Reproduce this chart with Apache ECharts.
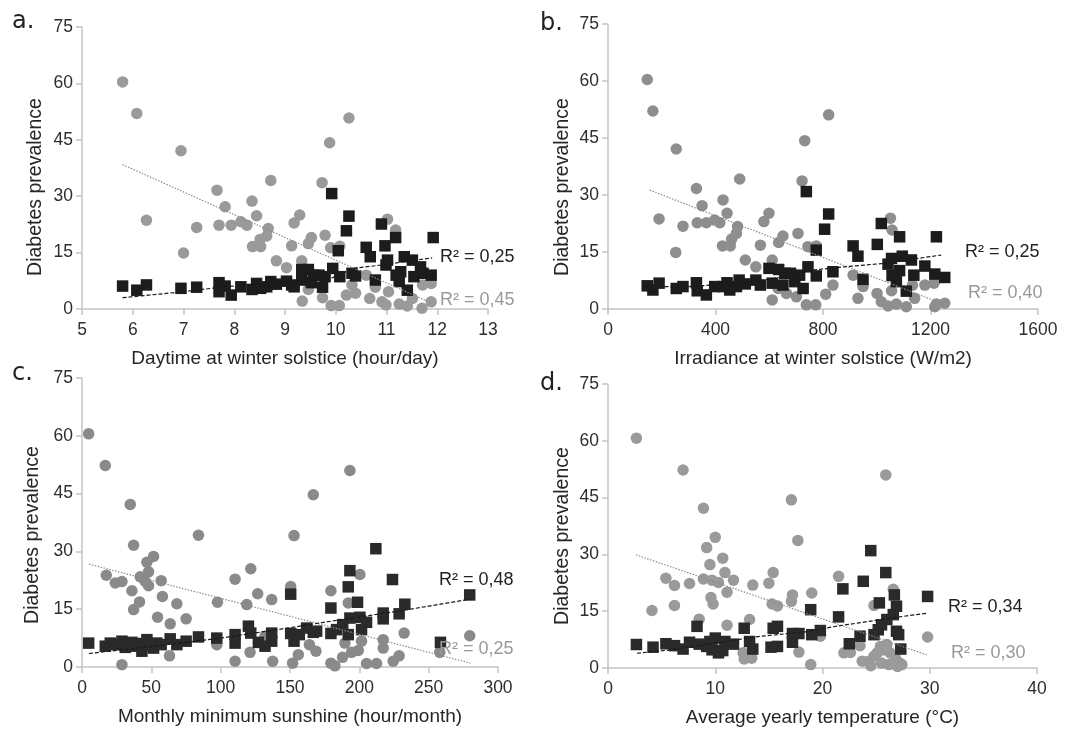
<!DOCTYPE html>
<html><head><meta charset="utf-8">
<script src="https://cdn.jsdelivr.net/npm/echarts@6/dist/echarts.min.js"></script>
<style>html,body{margin:0;padding:0;background:#fff}#c{width:1071px;height:729px}</style>
</head><body><div id="c"></div>
<script>
// ---------- Panel a: Daytime at winter solstice ----------
const aGray = [[5.80,60.4],[6.08,52.0],[6.27,23.6],[6.95,42.1],[7.00,14.9],[7.26,21.7],[7.66,31.6],[7.70,22.3],[7.82,27.2],[7.94,22.3],[8.13,23.2],[8.25,22.3],[8.35,28.7],[8.44,24.8],[8.36,16.6],[8.52,16.6],[8.51,18.5],[8.64,19.4],[8.67,21.4],[8.72,34.2],[8.83,12.8],[9.03,11.0],[9.13,16.8],[9.18,22.9],[9.29,25.0],[9.33,12.8],[9.34,2.1],[9.46,17.4],[9.52,19.0],[9.46,5.2],[9.73,33.6],[9.79,19.6],[9.74,3.0],[9.88,44.2],[9.90,16.3],[9.91,0.9],[10.07,0.9],[10.08,16.7],[10.26,50.8],[10.32,6.4],[10.21,3.7],[10.39,4.2],[10.60,9.0],[10.67,2.8],[10.78,5.8],[10.91,1.9],[10.99,1.1],[11.02,23.9],[11.04,4.6],[11.18,21.0],[11.25,1.3],[11.41,0.8],[11.51,2.8],[11.70,0.2],[11.71,6.4],[11.88,1.9],[11.88,6.8]];
const aBlack = [[5.80,6.1],[6.08,5.0],[6.27,6.4],[6.95,5.5],[7.26,5.8],[7.70,7.0],[7.70,4.6],[7.82,6.1],[7.94,3.7],[8.13,5.9],[8.35,5.2],[8.44,6.8],[8.52,5.5],[8.64,5.9],[8.72,7.3],[8.83,6.6],[9.03,7.4],[9.13,6.4],[9.18,5.9],[9.33,10.5],[9.33,7.7],[9.46,10.5],[9.52,7.0],[9.56,9.0],[9.67,9.0],[9.74,5.8],[9.79,8.6],[9.92,30.7],[9.94,10.8],[10.05,15.5],[10.08,8.6],[10.21,20.8],[10.26,24.7],[10.32,9.5],[10.39,8.8],[10.60,16.4],[10.68,13.9],[10.78,7.7],[10.90,22.6],[10.97,16.8],[10.99,11.7],[11.02,13.0],[11.18,19.0],[11.19,9.0],[11.25,7.3],[11.28,9.9],[11.35,13.9],[11.41,5.0],[11.51,13.0],[11.54,8.6],[11.67,11.2],[11.72,9.5],[11.88,9.0],[11.92,19.0]];
const aGrayTrend = [[5.8,38.4],[11.9,1.5]];
const aBlackTrend = [[5.8,3.0],[7.0,4.6],[7.8,5.9],[9.0,7.2],[9.9,8.1],[10.35,10.8],[10.9,11.7],[11.9,13.6]];

// ---------- Panel b: Irradiance at winter solstice ----------
const bGray = [[146,60.4],[167,52.1],[190,23.7],[254,42.1],[252,14.9],[279,21.8],[329,31.7],[350,27.2],[332,22.7],[366,22.7],[397,23.4],[416,22.7],[428,28.7],[443,25.2],[426,16.6],[455,16.6],[460,18.4],[478,19.9],[482,21.7],[490,34.2],[511,12.9],[550,11.1],[567,16.8],[580,23.0],[599,25.2],[611,12.9],[611,2.4],[635,17.5],[651,19.2],[633,5.4],[664,4.1],[722,33.7],[707,19.9],[701,3.2],[732,44.3],[744,16.4],[738,1.1],[773,1.1],[775,16.6],[821,51.1],[837,6.3],[810,3.9],[912,8.9],[930,2.8],[949,5.9],[1001,4.1],[1017,1.9],[1042,0.8],[1051,23.9],[1057,20.8],[1055,4.8],[1073,1.3],[1110,0.6],[1141,2.8],[1133,6.3],[1179,6.3],[1216,0.6],[1222,1.3],[1253,1.5],[1213,6.8]];
const bBlack = [[146,6.1],[167,5.0],[190,6.8],[254,5.4],[279,5.9],[329,6.9],[332,4.8],[366,3.7],[397,5.9],[428,5.9],[443,6.9],[453,5.0],[478,5.9],[488,7.6],[511,6.6],[550,7.6],[567,6.3],[599,10.7],[611,6.8],[635,10.4],[651,6.3],[658,9.4],[679,9.4],[695,7.2],[713,8.9],[726,5.4],[738,30.9],[744,11.1],[775,15.5],[775,8.7],[806,21.0],[821,25.0],[837,9.8],[912,16.6],[930,13.9],[949,7.8],[1002,17.0],[1017,22.5],[1042,11.8],[1055,13.3],[1057,8.8],[1073,7.2],[1085,10.1],[1085,19.0],[1095,13.9],[1110,4.7],[1129,12.9],[1138,8.9],[1179,11.3],[1216,9.2],[1222,19.0],[1253,8.3]];
const bGrayTrend = [[155,31.3],[1240,1.5]];
const bBlackTrend = [[143,5.9],[300,5.9],[500,6.8],[640,8.3],[769,10.3],[880,11.1],[1026,12.0],[1240,14.2]];

// ---------- Panel c: Monthly minimum sunshine ----------
const cGray = [[4.8,60.5],[16.8,52.3],[34.8,42.2],[37.2,31.6],[17.5,23.8],[24,21.8],[28.8,22.2],[36,19.8],[37.2,14.9],[41.5,16.9],[42,23.4],[45.6,22.2],[46.8,27.2],[48,24.7],[48,21.1],[51.6,28.7],[57.1,22.4],[58,18.3],[54.5,12.9],[63.6,11.2],[68.4,16.4],[75.1,12.5],[63.1,2.9],[28.8,0.6],[84,34.2],[97.7,16.8],[97.2,5.8],[110.4,22.8],[110.4,1.5],[118.8,16.2],[121.7,25.5],[121.2,3.8],[126.7,19.0],[132,8.0],[136.8,17.5],[137.5,1.5],[150.5,20.9],[152.9,34.1],[151.9,1.0],[156,3.2],[164,5.8],[166.8,44.7],[168.7,4.1],[179.5,19.8],[179.5,1.0],[182.4,0.3],[187.9,2.5],[192,16.6],[193.2,51.0],[189.6,6.2],[194.4,3.8],[199.2,4.3],[200.4,24.0],[201.6,6.7],[205.2,0.9],[212.4,0.9],[217.2,7.1],[217.2,4.9],[224.4,1.5],[228.7,2.9],[232.3,8.8],[258,3.8],[279.6,8.1]];
const cBlack = [[4.8,6.2],[16.8,5.4],[20.4,6.2],[24,5.8],[28.8,6.7],[31.2,5.1],[36,6.4],[37.2,5.4],[41.5,6.1],[43.2,4.1],[46.8,7.1],[48,5.5],[51.6,4.9],[54,6.2],[57.1,5.8],[63.6,7.3],[68.4,5.8],[75.1,6.7],[84,7.8],[97.2,7.5],[110.4,8.4],[110.4,6.2],[120,10.6],[121.7,8.8],[127.2,6.4],[132,5.4],[136.8,6.7],[136.8,8.8],[150.5,18.9],[150.5,8.7],[152.9,6.7],[156.7,8.4],[162,10.1],[166.8,9.0],[169.2,9.3],[179.5,15.3],[179.5,8.7],[183.6,9.7],[188,11.0],[192,20.8],[193.2,25.0],[193.2,12.7],[192,8.4],[198.7,16.8],[200.4,12.9],[201.6,9.7],[205.2,11.6],[211.9,30.7],[217.2,12.5],[217.2,14.0],[223.9,22.7],[228.7,13.8],[232.8,16.3],[258.5,6.4],[279.6,18.7]];
const cGrayTrend = [[5,26.7],[280,1.0]];
const cBlackTrend = [[5,3.5],[50,5.3],[100,7.5],[150,10.2],[180,11.9],[230,14.6],[280,17.6]];

// ---------- Panel d: Average yearly temperature ----------
const dGray = [[2.65,60.7],[7.0,52.3],[8.9,42.2],[10.0,34.5],[9.2,31.8],[10.7,29.0],[9.5,27.3],[5.4,23.7],[6.2,21.8],[7.6,22.3],[8.9,23.5],[9.7,23.2],[10.3,22.6],[10.9,25.2],[11.7,23.2],[13.5,21.9],[15.0,22.4],[15.4,25.2],[9.6,18.6],[9.8,16.9],[11.1,20.0],[6.2,16.5],[4.1,15.2],[8.5,12.9],[11.1,11.3],[13.2,12.8],[15.3,16.9],[15.8,16.4],[17.1,44.4],[17.2,19.3],[17.1,17.6],[17.7,33.7],[19.0,19.8],[21.5,24.2],[25.9,51.0],[24.8,16.5],[19.8,8.4],[17.8,4.2],[18.9,0.9],[12.6,4.0],[12.7,2.4],[13.4,2.6],[22.0,4.0],[22.6,4.1],[23.5,5.9],[23.7,1.8],[24.3,1.8],[24.5,0.6],[24.8,3.1],[25.1,4.0],[25.4,5.7],[25.7,4.8],[26.0,6.2],[25.5,1.3],[26.2,0.9],[26.6,20.8],[26.8,2.6],[27.0,0.4],[27.2,1.3],[27.4,0.9],[29.8,8.2],[26.3,4.0]];
const dBlack = [[2.65,6.2],[4.2,5.5],[5.4,6.4],[6.2,5.9],[7.0,5.0],[7.6,6.8],[8.3,11.0],[8.5,6.3],[9.2,5.7],[9.5,7.0],[9.7,4.8],[10.0,7.9],[10.3,4.0],[10.7,4.6],[10.9,7.0],[11.7,6.3],[12.7,10.5],[13.2,7.0],[13.5,5.0],[15.2,5.5],[15.4,10.5],[15.8,11.0],[15.8,5.7],[17.2,6.8],[17.2,9.1],[17.8,9.1],[18.9,15.4],[19.0,8.8],[19.8,9.9],[21.5,13.5],[21.9,20.9],[22.5,6.4],[23.5,8.4],[23.8,22.9],[24.5,31.0],[24.8,8.8],[25.2,10.1],[25.3,17.2],[25.5,11.4],[25.9,25.2],[26.0,12.8],[26.6,14.1],[26.7,19.3],[26.9,16.3],[26.9,9.7],[27.1,8.8],[27.3,5.0],[29.8,18.9]];
const dGrayTrend = [[2.6,29.9],[29.7,3.5]];
const dBlackTrend = [[2.7,3.9],[5.6,4.7],[14,8.3],[18.6,9.6],[21,10.9],[25,12.6],[27.2,13.5],[29.8,14.5]];

// ---------- Axis settings and texts ----------
const yTicks = {min: 0, max: 75, interval: 15};
const xAxes = [
  {min: 5, max: 13, interval: 1, name: 'Daytime at winter solstice (hour/day)'},
  {min: 0, max: 1600, interval: 400, name: 'Irradiance at winter solstice (W/m2)'},
  {min: 0, max: 300, interval: 50, name: 'Monthly minimum sunshine (hour/month)'},
  {min: 0, max: 40, interval: 10, name: 'Average yearly temperature (°C)'}
];
const yTitle = 'Diabetes prevalence';
const panelLetters = ['a.', 'b.', 'c.', 'd.'];
const r2Black = ['R² = 0,25', 'R² = 0,25', 'R² = 0,48', 'R² = 0,34'];
const r2Gray = ['R² = 0,45', 'R² = 0,40', 'R² = 0,25', 'R² = 0,30'];

const panels = [
  {gray: aGray, black: aBlack, gt: aGrayTrend, bt: aBlackTrend},
  {gray: bGray, black: bBlack, gt: bGrayTrend, bt: bBlackTrend},
  {gray: cGray, black: cBlack, gt: cGrayTrend, bt: cBlackTrend},
  {gray: dGray, black: dBlack, gt: dGrayTrend, bt: dBlackTrend}
];

// layout (pixels)
const grids = [
  {left: 82, top: 27, width: 406, height: 282},
  {left: 608, top: 24, width: 430, height: 285},
  {left: 82, top: 378, width: 416, height: 289},
  {left: 608, top: 384, width: 429, height: 284}
];
const grayCol = ['#9a9a9a', '#8e8e8e', '#8a8a8a', '#9a9a9a'];
const blackCol = ['#1c1c1c', '#1c1c1c', '#2a2a2a', '#2a2a2a'];
const FONT = 'Liberation Sans, Arial, sans-serif';
const axisLineCol = '#c4c4c4';

const option = {
  backgroundColor: '#fff',
  animation: false,
  grid: grids.map(g => Object.assign({containLabel: false}, g)),
  xAxis: xAxes.map((x, i) => ({
    type: 'value', gridIndex: i, min: x.min, max: x.max, interval: x.interval,
    name: x.name, nameLocation: 'middle', nameGap: 40,
    nameTextStyle: {fontFamily: FONT, fontSize: 19, color: '#262626'},
    axisLine: {show: true, lineStyle: {color: axisLineCol, width: 1.5}},
    axisTick: {show: true, length: 6, inside: false, lineStyle: {color: axisLineCol, width: 1.5}},
    splitLine: {show: false},
    axisLabel: {fontFamily: FONT, fontSize: 17.5, color: '#2e2e2e', margin: 12, formatter: v => String(v)}
  })),
  yAxis: xAxes.map((x, i) => ({
    type: 'value', gridIndex: i, min: yTicks.min, max: yTicks.max, interval: yTicks.interval,
    axisLine: {show: true, lineStyle: {color: axisLineCol, width: 1.5}},
    axisTick: {show: true, length: 6, lineStyle: {color: axisLineCol, width: 1.5}},
    splitLine: {show: false},
    axisLabel: {fontFamily: FONT, fontSize: 17.5, color: '#2e2e2e', margin: 9, formatter: v => String(v)}
  })),
  series: [],
  graphic: []
};

panels.forEach((p, i) => {
  option.series.push({
    type: 'scatter', xAxisIndex: i, yAxisIndex: i, data: p.gray, symbol: 'circle', symbolSize: 11.5,
    itemStyle: {color: grayCol[i], opacity: 1}, z: 2
  });
  option.series.push({
    type: 'scatter', xAxisIndex: i, yAxisIndex: i, data: p.black, symbol: 'rect', symbolSize: 11.5,
    itemStyle: {color: blackCol[i], opacity: 1}, z: 3
  });
  option.series.push({
    type: 'line', xAxisIndex: i, yAxisIndex: i, data: p.gt, symbol: 'none', silent: true,
    lineStyle: {color: '#8c8c8c', width: 1.2, type: [1.5, 1.5]}, z: 4
  });
  option.series.push({
    type: 'line', xAxisIndex: i, yAxisIndex: i, data: p.bt, symbol: 'none', silent: true,
    lineStyle: {color: '#1a1a1a', width: 1.2, type: [4, 2]}, z: 4
  });
});

// titles and labels (pixel positions)
const yTitlePos = [[36, 187], [563, 187], [33, 535], [563, 536]];
const letterPos = [[12, 22], [540, 24], [12, 374], [540, 384]];
const r2BlackPos = [[440, 257], [965, 252], [439, 580], [948, 607]];
const r2GrayPos = [[440, 300], [968, 293], [439, 649], [951, 653]];
for (let i = 0; i < 4; i++) {
  option.graphic.push({type: 'text', x: yTitlePos[i][0], y: yTitlePos[i][1], rotation: Math.PI / 2,
    style: {text: yTitle, fontFamily: FONT, fontSize: 19.5, fill: '#262626', align: 'center', verticalAlign: 'middle'}});
  option.graphic.push({type: 'text', x: letterPos[i][0], y: letterPos[i][1],
    style: {text: panelLetters[i], fontFamily: 'DejaVu Sans, sans-serif', fontSize: 24, fill: '#222', align: 'left', verticalAlign: 'middle'}});
  option.graphic.push({type: 'text', x: r2BlackPos[i][0], y: r2BlackPos[i][1], z: 10,
    style: {text: r2Black[i], fontFamily: FONT, fontSize: 18, fill: '#222', align: 'left', verticalAlign: 'middle'}});
  option.graphic.push({type: 'text', x: r2GrayPos[i][0], y: r2GrayPos[i][1], z: 10,
    style: {text: r2Gray[i], fontFamily: FONT, fontSize: 18, fill: '#999', align: 'left', verticalAlign: 'middle'}});
}

const chart = echarts.init(document.getElementById('c'), null, {renderer: 'canvas'});
chart.setOption(option);
</script>
</body></html>
